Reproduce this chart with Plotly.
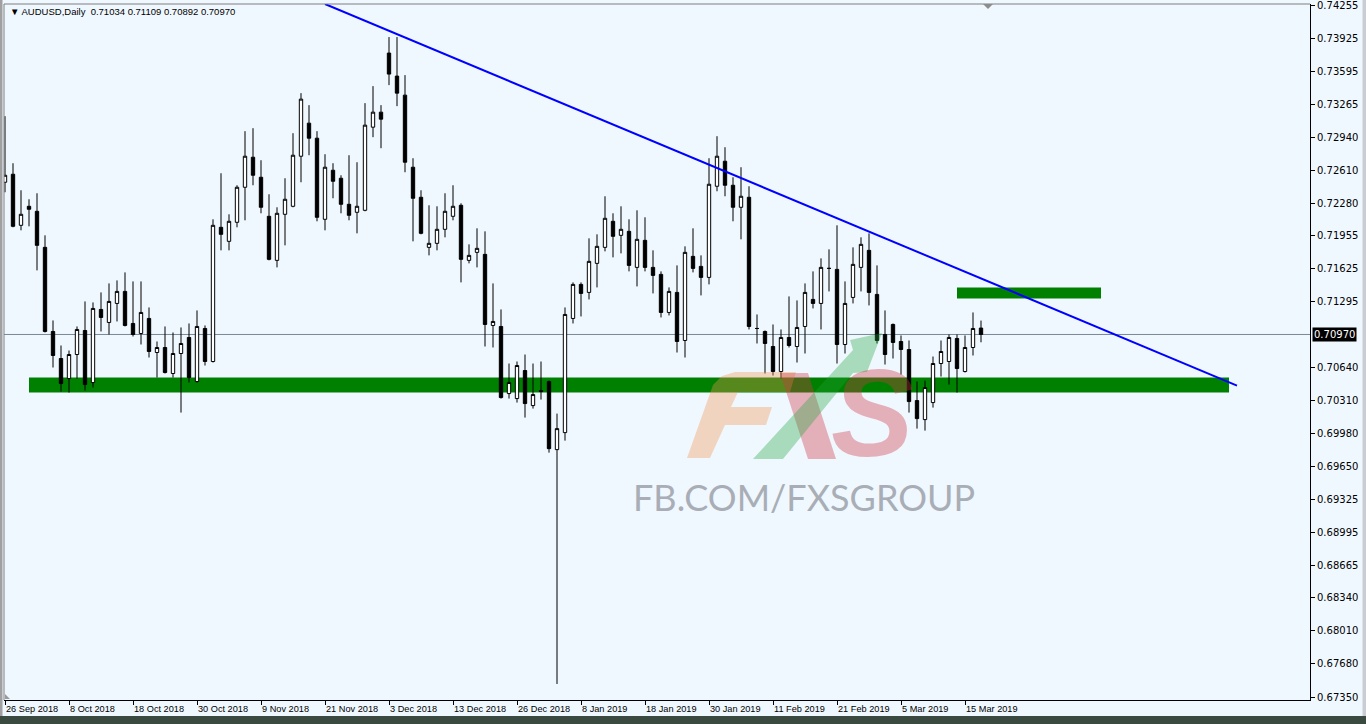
import plotly.graph_objects as go
import pandas as pd

# ---------------- data ----------------
symbol_title = "AUDUSD,Daily"

open_ = [0.7249, 0.7257, 0.7206, 0.7225, 0.7220, 0.7184, 0.7100, 0.7073, 0.7053, 0.7077,
         0.7101, 0.7049, 0.7122, 0.7109, 0.7128, 0.7140, 0.7108, 0.7098, 0.7113, 0.7079,
         0.7084, 0.7058, 0.7078, 0.7094, 0.7050, 0.7103, 0.7070, 0.7204, 0.7190, 0.7209,
         0.7244, 0.7274, 0.7254, 0.7215, 0.7171, 0.7217, 0.7225, 0.7275, 0.7308, 0.7293,
         0.7212, 0.7261, 0.7253, 0.7227, 0.7219, 0.7221, 0.7304, 0.7319, 0.7378, 0.7355,
         0.7336, 0.7264, 0.7234, 0.7184, 0.7188, 0.7202, 0.7215, 0.7226, 0.7171, 0.7179,
         0.7177, 0.7106, 0.7105, 0.7038, 0.7033, 0.7061, 0.7026, 0.7041, 0.7050, 0.6982,
         0.6999, 0.7113, 0.7147, 0.7139, 0.7168, 0.7184, 0.7210, 0.7196, 0.7200, 0.7164,
         0.7191, 0.7164, 0.7157, 0.7119, 0.7139, 0.7091, 0.7175, 0.7165, 0.7154, 0.7245,
         0.7270, 0.7246, 0.7224, 0.7234, 0.7103, 0.7100, 0.7085, 0.7060, 0.7094, 0.7085,
         0.7105, 0.7132, 0.7128, 0.7163, 0.7162, 0.7087, 0.7134, 0.7164, 0.7181, 0.7137,
         0.7097, 0.7107, 0.7090, 0.7082, 0.7031, 0.7012, 0.7029, 0.7068, 0.7070, 0.7093,
         0.7060, 0.7084, 0.71034]
high = [0.7315, 0.7268, 0.7241, 0.7232, 0.7238, 0.7196, 0.7111, 0.7086, 0.7081, 0.7105,
        0.7130, 0.7129, 0.7139, 0.7148, 0.7151, 0.7159, 0.7150, 0.7150, 0.7124, 0.7090,
        0.7105, 0.7099, 0.7104, 0.7108, 0.7121, 0.7106, 0.7212, 0.7258, 0.7217, 0.7246,
        0.7300, 0.7303, 0.7271, 0.7237, 0.7224, 0.7253, 0.7298, 0.7338, 0.7326, 0.7300,
        0.7277, 0.7268, 0.7256, 0.7276, 0.7269, 0.7328, 0.7345, 0.7326, 0.7394, 0.7394,
        0.7356, 0.7273, 0.7241, 0.7226, 0.7225, 0.7238, 0.7246, 0.7228, 0.7187, 0.7203,
        0.7200, 0.7148, 0.7122, 0.7068, 0.7070, 0.7077, 0.7068, 0.7070, 0.7051, 0.7018,
        0.7124, 0.7149, 0.7149, 0.7193, 0.7197, 0.7235, 0.7218, 0.7225, 0.7212, 0.7221,
        0.7214, 0.7181, 0.7160, 0.7144, 0.7166, 0.7185, 0.7203, 0.7176, 0.7273, 0.7295,
        0.7284, 0.7254, 0.7264, 0.7245, 0.7117, 0.7101, 0.7107, 0.7102, 0.7135, 0.7131,
        0.7148, 0.7160, 0.7173, 0.7182, 0.7206, 0.7150, 0.7184, 0.7194, 0.7198, 0.7166,
        0.7121, 0.7108, 0.7096, 0.7091, 0.7050, 0.7051, 0.7075, 0.7091, 0.7097, 0.7097,
        0.7096, 0.7119, 0.71109]
low = [0.7239, 0.7204, 0.7201, 0.7205, 0.7161, 0.7099, 0.7064, 0.7040, 0.7039, 0.7053,
       0.7041, 0.7044, 0.7100, 0.7097, 0.7110, 0.7105, 0.7095, 0.7087, 0.7074, 0.7054,
       0.7058, 0.7054, 0.7019, 0.7049, 0.7049, 0.7066, 0.7069, 0.7181, 0.7181, 0.7204,
       0.7211, 0.7246, 0.7218, 0.7171, 0.7164, 0.7186, 0.7224, 0.7249, 0.7276, 0.7210,
       0.7201, 0.7233, 0.7218, 0.7211, 0.7198, 0.7220, 0.7294, 0.7283, 0.7346, 0.7325,
       0.7259, 0.7190, 0.7197, 0.7176, 0.7181, 0.7194, 0.7211, 0.7149, 0.7168, 0.7164,
       0.7085, 0.7084, 0.7033, 0.7033, 0.7029, 0.7014, 0.7023, 0.7032, 0.6979, 0.6748,
       0.6991, 0.7108, 0.7115, 0.7132, 0.7144, 0.7180, 0.7174, 0.7178, 0.7160, 0.7145,
       0.7160, 0.7138, 0.7114, 0.7116, 0.7079, 0.7074, 0.7159, 0.7136, 0.7147, 0.7240,
       0.7235, 0.7210, 0.7192, 0.7102, 0.7088, 0.7058, 0.7056, 0.7053, 0.7084, 0.7069,
       0.7078, 0.7123, 0.7102, 0.7140, 0.7068, 0.7078, 0.7128, 0.7140, 0.7126, 0.7088,
       0.7067, 0.7073, 0.7057, 0.7019, 0.7003, 0.7001, 0.7024, 0.7055, 0.7047, 0.7039,
       0.7059, 0.7076, 0.70892]
close = [0.7256, 0.7205, 0.7217, 0.7222, 0.7186, 0.7100, 0.7076, 0.7048, 0.7077, 0.7102,
         0.7047, 0.7123, 0.7114, 0.7130, 0.7140, 0.7106, 0.7097, 0.7119, 0.7080, 0.7084,
         0.7059, 0.7078, 0.7088, 0.7054, 0.7105, 0.7070, 0.7206, 0.7197, 0.7210, 0.7244,
         0.7275, 0.7256, 0.7224, 0.7172, 0.7218, 0.7232, 0.7276, 0.7332, 0.7293, 0.7214,
         0.7264, 0.7250, 0.7227, 0.7216, 0.7225, 0.7306, 0.7319, 0.7312, 0.7357, 0.7338,
         0.7269, 0.7233, 0.7198, 0.7188, 0.7202, 0.7220, 0.7225, 0.7172, 0.7176, 0.7183,
         0.7107, 0.7110, 0.7034, 0.7049, 0.7066, 0.7028, 0.7037, 0.7040, 0.6983, 0.7003,
         0.7117, 0.7147, 0.7138, 0.7170, 0.7185, 0.7213, 0.7195, 0.7202, 0.7166, 0.7192,
         0.7164, 0.7156, 0.7119, 0.7140, 0.7090, 0.7179, 0.7163, 0.7154, 0.7247, 0.7275,
         0.7246, 0.7224, 0.7235, 0.7105, 0.7103, 0.7088, 0.7060, 0.7094, 0.7086, 0.7104,
         0.7139, 0.7128, 0.7164, 0.7163, 0.7087, 0.7128, 0.7167, 0.7187, 0.7139, 0.7091,
         0.7077, 0.7089, 0.7082, 0.7030, 0.7013, 0.7044, 0.7068, 0.7080, 0.7094, 0.7063,
         0.7084, 0.7103, 0.70970]

holidays = ["2018-12-25", "2019-01-01"]
date_labels = ["26 Sep 2018", "8 Oct 2018", "18 Oct 2018", "30 Oct 2018", "9 Nov 2018",
               "21 Nov 2018", "3 Dec 2018", "13 Dec 2018", "26 Dec 2018", "8 Jan 2019",
               "18 Jan 2019", "30 Jan 2019", "11 Feb 2019", "21 Feb 2019", "5 Mar 2019",
               "15 Mar 2019"]
price_labels = [0.74255, 0.73925, 0.73595, 0.73265, 0.72940, 0.72610, 0.72280, 0.71955,
                0.71625, 0.71295, 0.70640, 0.70310, 0.69980, 0.69650, 0.69325, 0.68995,
                0.68665, 0.68340, 0.68010, 0.67680, 0.67350]

# drawn objects (in bar-index / price units)
support_zone = dict(x0=3.0, x1=153.0, y0=0.7039, y1=0.7054)
resistance_zone = dict(x0=119.0, x1=137.0, y0=0.7133, y1=0.7144)
trend_line = dict(x0=40.0, y0=0.7427, x1=154.0, y1=0.7046)

# ---------------- build ----------------
all_days = pd.bdate_range("2018-09-26", "2019-03-19")
dates = [d for d in all_days if d.strftime("%Y-%m-%d") not in holidays]
xi = list(range(len(dates)))
tick_pos = [dates.index(pd.to_datetime(t, format="%d %b %Y")) for t in date_labels]

W, H = 1366, 724
ML, MR, MT, MB = 4, 56, 4, 24
PW, PH = W - ML - MR, H - MT - MB
BAR_PX = 8.0
x_rng = [-0.125, -0.125 + PW / BAR_PX]
y_top = 0.74270
y_rng = [y_top - 0.0695, y_top]


def px(X):
    return (X - ML) / PW


def py(Y):
    return (H - MB - Y) / PH


def poly(pts):
    return "M " + " L ".join(f"{px(a):.5f},{py(b):.5f}" for a, b in pts) + " Z"


fig = go.Figure()
fig.add_trace(go.Candlestick(
    x=xi, open=open_, high=high, low=low, close=close,
    text=[d.strftime("%d %b %Y") for d in dates],
    increasing=dict(line=dict(color="black", width=1), fillcolor="white"),
    decreasing=dict(line=dict(color="black", width=1), fillcolor="black"),
    whiskerwidth=0, showlegend=False,
))

shapes = []
# support / resistance zones (background)
for z in (support_zone, resistance_zone):
    shapes.append(dict(type="rect", xref="x", yref="y", layer="below",
                       x0=z["x0"], x1=z["x1"], y0=z["y0"], y1=z["y1"],
                       fillcolor="#008000", line=dict(width=0)))
# current price line
shapes.append(dict(type="line", xref="paper", yref="y", layer="below",
                   x0=0, x1=1, y0=close[-1], y1=close[-1],
                   line=dict(color="#7A8896", width=1)))
# trend line
shapes.append(dict(type="line", xref="x", yref="y", layer="above",
                   x0=trend_line["x0"], y0=trend_line["y0"],
                   x1=trend_line["x1"], y1=trend_line["y1"],
                   line=dict(color="#0000FF", width=2)))
# frame: left & top gray lines
shapes.append(dict(type="line", xref="paper", yref="paper", x0=0, x1=0, y0=0, y1=1,
                   line=dict(color="#7F7F7F", width=1)))
shapes.append(dict(type="line", xref="paper", yref="paper", x0=0, x1=1, y0=1, y1=1,
                   line=dict(color="#7F7F7F", width=1)))
# outer window borders
shapes.append(dict(type="rect", xref="paper", yref="paper", layer="above",
                   x0=px(0), x1=px(2.5),
                   y0=py(H), y1=py(0), fillcolor="#A0A0A0", line=dict(width=0)))
shapes.append(dict(type="rect", xref="paper", yref="paper", layer="above",
                   x0=px(1362.5), x1=px(W),
                   y0=py(H), y1=py(0), fillcolor="#C9CDD2", line=dict(width=0)))
shapes.append(dict(type="rect", xref="paper", yref="paper", layer="above",
                   x0=px(0), x1=px(W),
                   y0=py(H), y1=py(716), fillcolor="#3A4A40", line=dict(width=0)))
# chart shift marker
shapes.append(dict(type="path", xref="paper", yref="paper",
                   path=poly([(983, 4), (993, 4), (988, 9)]),
                   fillcolor="#8C8C8C", line=dict(width=0)))
shapes.append(dict(type="path", xref="paper", yref="paper",
                   path=poly([(5, 694), (5, 699), (10, 699)]),
                   fillcolor="#9A9A9A", line=dict(width=0)))

# watermark logo pieces (above candles, translucent)
peach = "rgba(240,150,80,0.36)"
pink = "rgba(205,55,65,0.37)"
green = "rgba(30,165,55,0.34)"
F_pts = [(687, 458), (713, 385), (722, 376), (735, 372), (796, 372), (790, 392),
         (738, 392), (731, 407), (772, 407), (766, 425), (725, 425), (710, 458)]
shapes.append(dict(type="path", xref="paper", yref="paper", layer="above",
                   path=poly(F_pts), fillcolor=peach, line=dict(width=0)))
Xs_pts = [(780, 373), (808, 373), (836, 459), (808, 459)]
shapes.append(dict(type="path", xref="paper", yref="paper", layer="above",
                   path=poly(Xs_pts), fillcolor=pink, line=dict(width=0)))
arrow_pts = [(753, 459), (783, 459), (853, 373), (867, 372), (882, 333), (850, 340),
             (853, 350)]
shapes.append(dict(type="path", xref="paper", yref="paper", layer="above",
                   path=poly(arrow_pts), fillcolor=green, line=dict(width=0)))

annotations = [
    dict(xref="paper", yref="paper", x=px(8), y=py(12), xanchor="left", yanchor="middle",
         text="\u25bc " + symbol_title + "\u00a0\u00a0" + " ".join(
             f"{v:.5f}" for v in (open_[-1], high[-1], low[-1], close[-1])),
         showarrow=False, font=dict(family="Liberation Sans", size=9.5, color="black")),
    dict(xref="paper", yref="y", x=1, y=close[-1], xanchor="left", yanchor="middle",
         xshift=2, text=f"{close[-1]:.5f}", showarrow=False, bgcolor="black",
         borderpad=1, font=dict(family="DejaVu Sans", size=10, color="white")),
    dict(xref="paper", yref="paper", x=px(872), y=py(413), xanchor="center",
         yanchor="middle", text="S", showarrow=False,
         font=dict(family="Liberation Sans", size=124, color=pink, weight="bold",
                   style="italic")),
    dict(xref="paper", yref="paper", x=px(804), y=py(497), xanchor="center",
         yanchor="middle", text="FB.COM/FXSGROUP", showarrow=False,
         font=dict(family="Lato", size=36, color="#A9AEB6")),
]

fig.update_layout(
    width=W, height=H,
    margin=dict(l=ML, r=MR, t=MT, b=MB, autoexpand=False),
    paper_bgcolor="#F0F8FF", plot_bgcolor="#F0F8FF",
    boxgap=0.4,
    shapes=shapes, annotations=annotations,
    hovermode=False,
    xaxis=dict(range=x_rng, rangeslider=dict(visible=False), showgrid=False,
               zeroline=False, tickmode="array", tickvals=tick_pos,
               ticktext=date_labels, ticks="outside", ticklen=4, tickcolor="black",
               ticklabelposition="outside right", tickangle=0, automargin=False,
               showline=True, linecolor="black", linewidth=1,
               tickfont=dict(family="Liberation Sans", size=9.2, color="black")),
    yaxis=dict(range=y_rng, side="right", showgrid=False, zeroline=False,
               tickmode="array", tickvals=price_labels, automargin=False,
               ticktext=[f"{v:.5f}" for v in price_labels],
               ticks="outside", ticklen=4, tickcolor="black",
               showline=True, linecolor="black", linewidth=1,
               tickfont=dict(family="DejaVu Sans", size=10, color="black")),
)

fig.write_html(
    "out.html",
    config={"displayModeBar": False, "staticPlot": True},
    post_script="document.body.style.margin='0';document.body.style.overflow='hidden';"
                "document.body.style.background='#F0F8FF';",
)
